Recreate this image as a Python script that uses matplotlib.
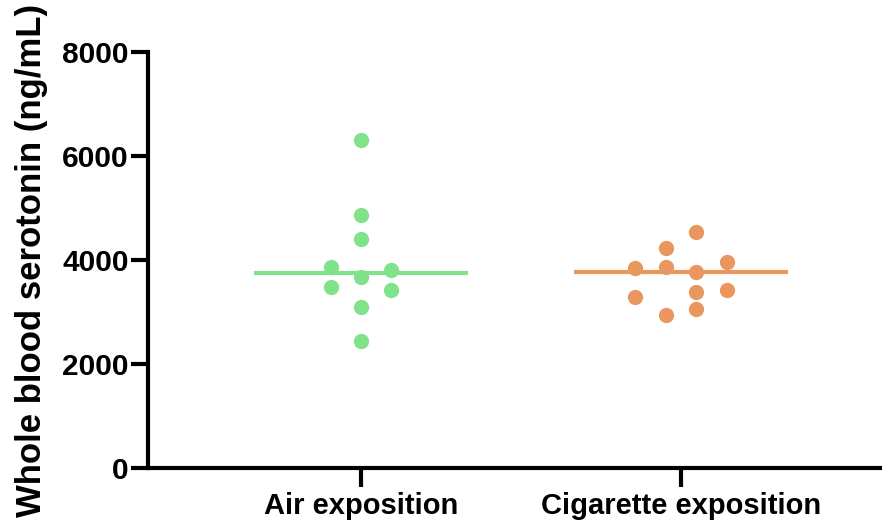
#!/usr/bin/env python3
#
# Whole blood serotonin, air vs cigarette exposition (scatter + median)
#
import matplotlib
matplotlib.use('Agg')
import matplotlib.pyplot as plt
import numpy as np

# Data (ng/mL)
groups = ['Air exposition', 'Cigarette exposition']
air = [6300, 4870, 4400, 3870, 3490, 3680, 3810, 3420, 3100, 2450]
cig = [4530, 4240, 3955, 3840, 3870, 3775, 3295, 3390, 3420, 3060, 2940]

# Column of each point within its scatter cloud
air_col = [0, 0, 0, -1, -1, 0, 1, 1, 0, 0]
cig_col = [0.5, -0.5, 1.5, -1.5, -0.5, 0.5, -1.5, 0.5, 1.5, 0.5, -0.5]

colors = ['#80e38a', '#e9975f']
yticks = [0, 2000, 4000, 6000, 8000]

plt.rcParams['font.family'] = ['Liberation Sans', 'DejaVu Sans']
plt.rcParams['font.weight'] = 'bold'

fig = plt.figure(figsize=(8.82, 5.22), dpi=100)
ax = fig.add_axes([148 / 882, 54 / 522, 1 - 148 / 882, 416 / 522])

dx = 0.095     # column spacing
hw = 1 / 3     # half width of median line
for k, (vals, cols, c) in enumerate(zip([air, cig], [air_col, cig_col],
                                        colors)):
    x = k + dx * np.array(cols)
    ax.plot(x, vals, 'o', color=c, markersize=11, mec='none', zorder=3)
    med = np.median(vals)
    ax.plot([k - hw, k + hw], [med, med], color=c, lw=3,
            solid_capstyle='butt', zorder=2)

ax.set_xlim(-0.666, 1.628)
ax.set_ylim(0, 8000)
ax.set_xticks([0, 1])
ax.set_xticklabels(groups, fontsize=21, fontweight='bold')
ax.set_yticks(yticks)
ax.set_yticklabels([str(v) for v in yticks], fontsize=21.5, fontweight='bold')
ax.set_ylabel('Whole blood serotonin (ng/mL)', fontsize=25,
              fontweight='bold', labelpad=10)

for s in ['top', 'right']:
    ax.spines[s].set_visible(False)
for s in ['left', 'bottom']:
    ax.spines[s].set_linewidth(3)
ax.tick_params(axis='y', length=12, width=3, pad=2)
ax.tick_params(axis='x', length=14, width=3, pad=3)

fig.savefig('out.png', dpi=100)
